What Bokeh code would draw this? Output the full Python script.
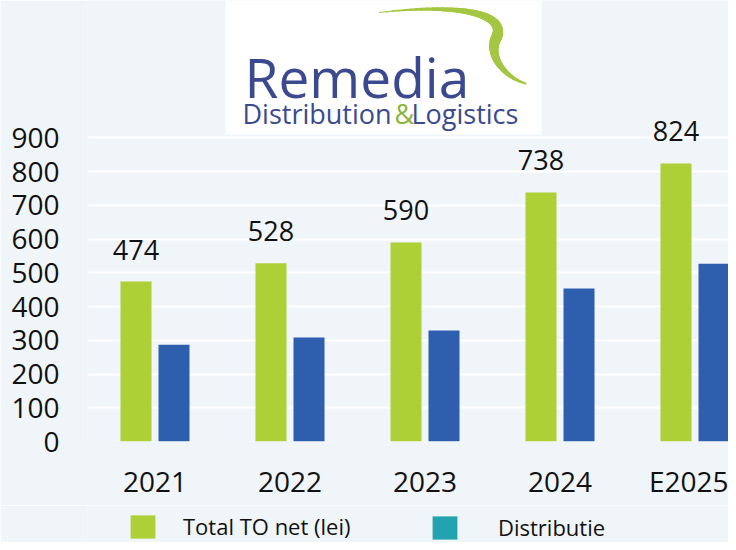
import numpy as np
from bokeh.plotting import figure
from bokeh.layouts import column
from bokeh.models import (ColumnDataSource, Range1d, FixedTicker, Legend, LegendItem, Label)
from bokeh.transform import dodge
from bokeh.core.properties import value
from bokeh.embed import file_html
from bokeh.resources import INLINE

# ---- data ----
years = ["2021", "2022", "2023", "2024", "E2025"]
total_to_net = [474, 528, 590, 738, 824]
distributie = [287, 308, 329, 453, 527]
y_ticks = [0, 100, 200, 300, 400, 500, 600, 700, 800, 900]
series_names = ["Total TO net (lei)", "Distributie"]

GREEN = "#acd035"
BLUE = "#2e5fae"
TEAL = "#22a3ae"
BG = "#f0f5fa"
FONT = "Open Sans"
TXT = "#111111"

W = 728
H1 = 505          # main chart canvas
H2 = 37           # legend strip canvas (total 542)
LEFT = 87
FRAME_BOTTOM = 441
PX_PER_CAT = 135.0
PX_PER_UNIT = 0.3375
x_start = -0.5
x_end = x_start + (W - LEFT) / PX_PER_CAT
y_end = FRAME_BOTTOM / PX_PER_UNIT

src = ColumnDataSource(dict(
    x=list(range(len(years))),
    total=total_to_net,
    dist=distributie,
    total_label=[str(v) for v in total_to_net],
))

p = figure(width=W, height=H1, output_backend="svg", toolbar_location=None,
           x_range=Range1d(x_start, x_end), y_range=Range1d(0, y_end),
           min_border_left=LEFT, min_border_right=0, min_border_top=0,
           min_border_bottom=H1 - FRAME_BOTTOM)
p.background_fill_color = BG
p.border_fill_color = BG
p.outline_line_color = None


# helpers to place decorations given pixel positions on the canvas
def X(px):
    return x_start + (px - LEFT) / PX_PER_CAT


def Y(py):
    return (FRAME_BOTTOM - py) / PX_PER_UNIT


# ---- logo ----
p.quad(left=[X(225)], right=[X(541)], top=[Y(0)], bottom=[Y(134)],
       fill_color="white", line_color=None)


def cubic(p0, p1, p2, p3, n):
    t = np.linspace(0, 1, n)[:, None]
    return ((1 - t) ** 3) * np.array(p0) + 3 * ((1 - t) ** 2) * t * np.array(p1) \
        + 3 * (1 - t) * t ** 2 * np.array(p2) + t ** 3 * np.array(p3)


a = cubic((379, 12), (455, 3), (507, 12), (496, 37), 36)
b = cubic((496, 37), (487, 53), (502, 76), (525, 83), 28)
w_a = np.linspace(1.0, 11.0, len(a) - 1)
w_b = np.linspace(11.0, 2.0, len(b) - 1)
p.segment(x0=[X(v) for v in np.concatenate([a[:-1, 0], b[:-1, 0]])],
          y0=[Y(v) for v in np.concatenate([a[:-1, 1], b[:-1, 1]])],
          x1=[X(v) for v in np.concatenate([a[1:, 0], b[1:, 0]])],
          y1=[Y(v) for v in np.concatenate([a[1:, 1], b[1:, 1]])],
          line_width=list(np.concatenate([w_a, w_b])), line_color="#a4c743",
          line_cap="round")

p.add_layout(Label(x=X(244), y=Y(76), text="Remedia", text_font=FONT,
                   text_font_size="55px", text_color="#3b4a8e",
                   text_baseline="alphabetic"))
p.add_layout(Label(x=X(242), y=Y(113), text="Distribution", text_font=FONT,
                   text_font_size="27px", text_color="#3b4a8e",
                   text_baseline="alphabetic"))
p.add_layout(Label(x=X(394), y=Y(113), text="&", text_font=FONT,
                   text_font_size="27px", text_color="#8cb43a",
                   text_baseline="alphabetic"))
p.add_layout(Label(x=X(411), y=Y(113), text="Logistics", text_font=FONT,
                   text_font_size="27px", text_color="#3b4a8e",
                   text_baseline="alphabetic"))

# ---- bars ----
OFF = 19 / PX_PER_CAT
BW = 31 / PX_PER_CAT
p.vbar(x=dodge("x", -OFF, range=p.x_range), top="total", width=BW,
       source=src, fill_color=GREEN, line_color=None)
p.vbar(x=dodge("x", OFF, range=p.x_range), top="dist", width=BW,
       source=src, fill_color=BLUE, line_color=None)

p.text(x=dodge("x", -OFF, range=p.x_range), y="total", text="total_label",
       source=src, y_offset=-32, text_align="center", text_baseline="alphabetic",
       text_font=value(FONT), text_font_size="27px", text_color=TXT)

# ---- axes ----
p.yaxis.ticker = FixedTicker(ticks=y_ticks)
p.xaxis.ticker = FixedTicker(ticks=list(range(len(years))))
p.xaxis.major_label_overrides = {i: y for i, y in enumerate(years)}
for ax in (p.xaxis, p.yaxis):
    ax.axis_line_color = None
    ax.major_tick_line_color = None
    ax.minor_tick_line_color = None
    ax.major_tick_out = 0
    ax.major_tick_in = 0
    ax.major_label_text_font = FONT
    ax.major_label_text_font_size = "28px"
    ax.major_label_text_color = TXT
p.yaxis.major_label_standoff = 28
p.xaxis.major_label_standoff = 20

p.ygrid.grid_line_color = "white"
p.ygrid.grid_line_width = 2
p.xgrid.visible = False

# ---- legend strip ----
q = figure(width=W, height=H2, output_backend="svg", toolbar_location=None,
           x_range=Range1d(0, 1), y_range=Range1d(0, 1),
           x_axis_type=None, y_axis_type=None,
           min_border_left=LEFT, min_border_right=0, min_border_top=0, min_border_bottom=0)
q.background_fill_color = BG
q.border_fill_color = BG
q.outline_line_color = None
q.grid.visible = False
# zero-size keys, only used to give the legend its swatches
k_green = q.vbar(x=[0], top=[0], bottom=[0], width=0, fill_color=GREEN, line_color=None)
k_teal = q.vbar(x=[0], top=[0], bottom=[0], width=0, fill_color=TEAL, line_color=None)


def make_legend(label, rend, loc, standoff):
    return Legend(items=[LegendItem(label=label, renderers=[rend])], location=loc,
                  orientation="horizontal", glyph_width=31, glyph_height=29,
                  label_standoff=standoff, label_text_font=FONT,
                  label_text_font_size="22px", label_text_color=TXT,
                  label_text_baseline="middle",
                  background_fill_alpha=0, border_line_color=None,
                  padding=0, margin=0, spacing=0)


q.add_layout(make_legend(series_names[0], k_green, (127 - LEFT, 1), 25))
q.add_layout(make_legend(series_names[1], k_teal, (429 - LEFT, 0), 38))

open("out.html", "w").write(file_html(column(p, q, spacing=0), INLINE))
